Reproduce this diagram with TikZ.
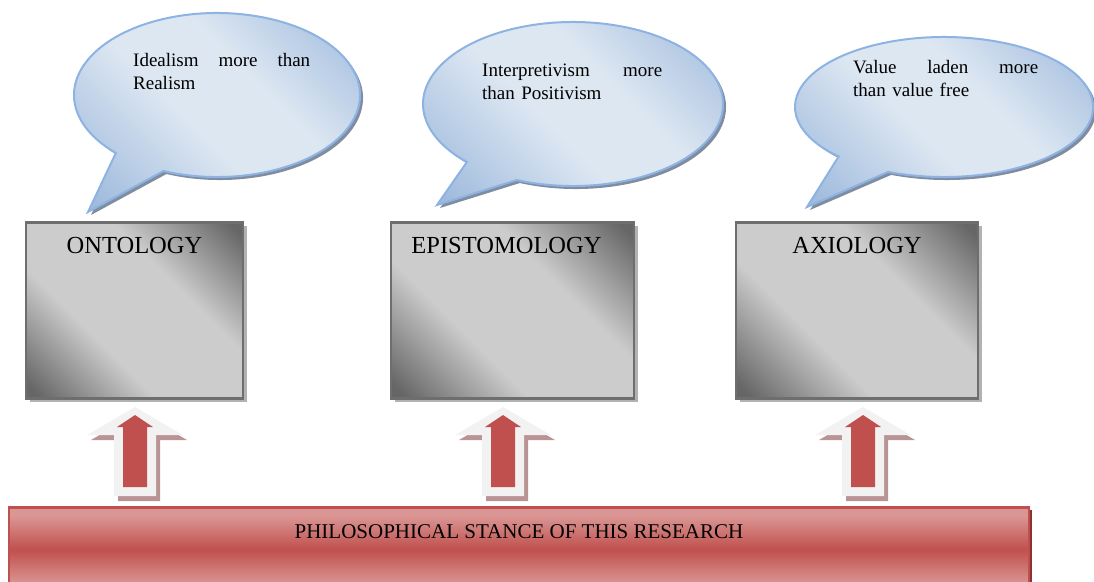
\documentclass[tikz,border=0pt]{standalone}
\usepackage{fontspec}
\setmainfont{Liberation Serif}
\usepackage{tikz}

\definecolor{bubbleline}{RGB}{141,179,226}
\definecolor{bubblelight}{RGB}{221,231,242}
\definecolor{bubbledark}{RGB}{160,187,221}
\definecolor{bubbleshadow}{RGB}{128,140,160}
\definecolor{boxlight}{RGB}{204,204,204}
\definecolor{boxdark}{RGB}{102,102,102}
\definecolor{boxline}{RGB}{110,110,110}
\definecolor{boxshadow}{RGB}{178,178,178}
\definecolor{stancered}{RGB}{192,80,77}
\definecolor{stancelight}{RGB}{218,150,148}
\definecolor{stanceshadow}{RGB}{140,50,48}
\definecolor{arrowrim}{RGB}{242,242,242}
\definecolor{arrowshadow}{RGB}{184,148,148}

\pgfdeclarehorizontalshading{bubbleshade}{100bp}{color(0bp)=(bubbledark); color(20bp)=(bubbledark);
  color(44bp)=(bubblelight); color(58bp)=(bubblelight); color(80bp)=(bubbledark); color(100bp)=(bubbledark)}
\pgfdeclarehorizontalshading{boxshade}{100bp}{color(0bp)=(boxdark); color(17bp)=(boxdark);
  color(38bp)=(boxlight); color(62bp)=(boxlight); color(83bp)=(boxdark); color(100bp)=(boxdark)}
\pgfdeclareverticalshading{stanceshade}{100bp}{color(0bp)=(stancelight); color(30bp)=(stancelight);
  color(50bp)=(stancered); color(70bp)=(stancelight); color(100bp)=(stancelight)}

\tikzset{
  bubble/.style={draw=bubbleline, line width=2pt, shade, shading=bubbleshade, shading angle=45},
  bubbletext/.style={anchor=base west, inner sep=0pt, text width=#1, align=left,
    font=\fontsize{19}{23}\selectfont},
  conceptbox/.style={draw=boxline, line width=2.5pt, shade, shading=boxshade, shading angle=45,
    preaction={fill=boxshadow, transform canvas={shift={(4pt,-4pt)}}},
    anchor=north, inner sep=0pt, minimum width=#1, text height=31pt, text depth=145pt,
    font=\fontsize{24.5}{28}\selectfont},
  stance/.style={draw=stancered, line width=2.5pt, shade, shading=stanceshade,
    preaction={fill=stanceshadow, transform canvas={shift={(3pt,-3pt)}}},
    anchor=north, inner sep=0pt, minimum width=1020pt, text height=31pt, text depth=54pt,
    font=\fontsize{21}{25}\selectfont},
  pics/bubble/.style n args={3}{code={
    \fill[bubbleshadow, shift={(3,3)}] (112:#1 and #2)
      arc[start angle=112, end angle=-225, x radius=#1, y radius=#2] -- #3 -- cycle;
    \path[bubble] (112:#1 and #2)
      arc[start angle=112, end angle=-225, x radius=#1, y radius=#2] -- #3 -- cycle;
  }},
  pics/uparrow/.style={code={
    \fill[arrowshadow, shift={(4,5)}] (0,0) -- (48,28) -- (21,28) -- (21,89)
      -- (-21,89) -- (-21,28) -- (-48,28) -- cycle;
    \fill[arrowrim] (0,0) -- (48,28) -- (21,28) -- (21,89)
      -- (-21,89) -- (-21,28) -- (-48,28) -- cycle;
    \fill[stancered] (0,8) -- (18,20) -- (12,20) -- (12,80)
      -- (-12,80) -- (-12,20) -- (-18,20) -- cycle;
  }}
}

\begin{document}
\begin{tikzpicture}[x=1pt,y=-1pt]
    \useasboundingbox (0,0) rectangle (1094,581);
    \clip (0,0) rectangle (1094,581);

    % speech bubbles
    \pic (ontbubble) at (217,95) {bubble={143}{82}{(-129,117)}};
    \pic (epibubble) at (573,104) {bubble={150}{82}{(-136,101)}};
    \pic (axibubble) at (944,107) {bubble={149}{70}{(-137,100)}};
    \node[bubbletext=177pt] (realism) at (133,66)
      {\makebox[177pt][s]{Idealism\hfill more\hfill than}\\Realism};
    \node[bubbletext=180pt] (positivism) at (482,76)
      {\makebox[180pt][s]{Interpretivism\hfill more}\\than Positivism};
    \node[bubbletext=185pt] (valuefree) at (853,73)
      {\makebox[185pt][s]{Value\hfill laden\hfill more}\\than value free};

    % the three boxes
    \node[conceptbox=217pt] (ont) at (134.5,221) {ONTOLOGY};
    \node[conceptbox=243pt] (epi) at (512.5,221) {\hspace*{-12pt}EPISTOMOLOGY};
    \node[conceptbox=242pt] (axi) at (857,221) {AXIOLOGY};

    % arrows up from the stance
    \pic (ontarrow) at (135,407) {uparrow};
    \pic (epiarrow) at (503,407) {uparrow};
    \pic (axiarrow) at (863,407) {uparrow};

    \node[stance] (stance) at (519,506) {PHILOSOPHICAL STANCE OF THIS RESEARCH};
\end{tikzpicture}
\end{document}
